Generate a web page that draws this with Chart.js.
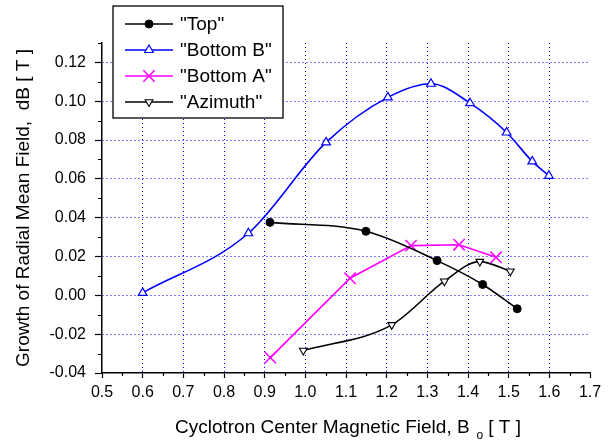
<!DOCTYPE html>
<html>
<head>
<meta charset="utf-8">
<script src="https://cdn.jsdelivr.net/npm/chart.js@4/dist/chart.umd.min.js"></script>
<style>
  html, body { margin: 0; padding: 0; background: #fff; }
</style>
</head>
<body>
<canvas id="chart" width="612" height="441"></canvas>
<script>
// values
const topX = [0.913, 1.149, 1.324, 1.436, 1.521]
const topY = [0.0376, 0.033, 0.0179, 0.0056, -0.0069]
const bottomBX = [0.6, 0.86, 1.051, 1.203, 1.309, 1.405, 1.495, 1.558, 1.599]
const bottomBY = [0.0013, 0.032, 0.0788, 0.102, 0.109, 0.099, 0.0839, 0.069, 0.0616]
const bottomAX = [0.914, 1.11, 1.26, 1.378, 1.469]
const bottomAY = [-0.0321, 0.0088, 0.0256, 0.0261, 0.0196]
const azimuthX = [0.995, 1.2125, 1.342, 1.429, 1.504]
const azimuthY = [-0.0284, -0.0152, 0.0073, 0.0174, 0.0124]

const xTicks = [0.5, 0.6, 0.7, 0.8, 0.9, 1.0, 1.1, 1.2, 1.3, 1.4, 1.5, 1.6, 1.7]
const xMinorTicks = [0.55, 0.65, 0.75, 0.85, 0.95, 1.05, 1.15, 1.25, 1.35, 1.45, 1.55, 1.65]
const yTicks = [-0.04, -0.02, 0.0, 0.02, 0.04, 0.06, 0.08, 0.1, 0.12]
const yMinorTicks = [-0.03, -0.01, 0.01, 0.03, 0.05, 0.07, 0.09, 0.11, 0.13]

const seriesNames = ['"Top"', '"Bottom B"', '"Bottom A"', '"Azimuth"']

const FONT = '"Liberation Sans", Arial, sans-serif'
const BLUE = '#0000ff'
const MAGENTA = '#ff00ff'

function toPoints(xs, ys) {
  return xs.map((x, i) => ({ x: x, y: ys[i] }))
}

// small marker painter for the legend, same shapes as the chart points
function drawMarker(ctx, ds, x, y) {
  const r = ds.pointRadius
  ctx.save()
  ctx.lineWidth = ds.pointBorderWidth
  ctx.strokeStyle = ds.pointBorderColor
  ctx.fillStyle = ds.pointBackgroundColor
  ctx.beginPath()
  if (ds.pointStyle === 'circle') {
    ctx.arc(x, y, r, 0, Math.PI * 2)
    ctx.fill()
    ctx.stroke()
  } else if (ds.pointStyle === 'triangle') {
    const rot = (ds.pointRotation || 0) * Math.PI / 180
    for (let k = 0; k < 3; k++) {
      const a = rot + k * 2 * Math.PI / 3
      const px = x + Math.sin(a) * r
      const py = y - Math.cos(a) * r
      if (k === 0) ctx.moveTo(px, py)
      else ctx.lineTo(px, py)
    }
    ctx.closePath()
    ctx.fill()
    ctx.stroke()
  } else if (ds.pointStyle === 'crossRot') {
    const d = r * Math.SQRT1_2
    ctx.moveTo(x - d, y - d); ctx.lineTo(x + d, y + d)
    ctx.moveTo(x - d, y + d); ctx.lineTo(x + d, y - d)
    ctx.stroke()
  }
  ctx.restore()
}

const legendBox = {
  id: 'legendBox',
  afterDraw(chart) {
    const ctx = chart.ctx
    const left = 113, top = 6, right = 283, bottom = 118
    ctx.save()
    ctx.fillStyle = '#fff'
    ctx.fillRect(left, top, right - left, bottom - top)
    ctx.strokeStyle = '#000'
    ctx.lineWidth = 1.3
    ctx.strokeRect(left, top, right - left, bottom - top)
    const rows = [24, 50, 76, 102]
    chart.data.datasets.forEach((ds, i) => {
      const y = rows[i]
      ctx.strokeStyle = ds.borderColor
      ctx.lineWidth = ds.borderWidth
      ctx.beginPath()
      ctx.moveTo(125, y)
      ctx.lineTo(173, y)
      ctx.stroke()
      drawMarker(ctx, ds, 149, y)
      ctx.fillStyle = '#000'
      ctx.font = '19px ' + FONT
      ctx.textBaseline = 'middle'
      ctx.textAlign = 'left'
      ctx.fillText(ds.label, 180, y + 1)
    })
    ctx.restore()
  }
}

const axisExtras = {
  id: 'axisExtras',
  afterDraw(chart) {
    const ctx = chart.ctx
    const xs = chart.scales.x
    const ys = chart.scales.y
    ctx.save()
    ctx.strokeStyle = '#000'
    ctx.lineWidth = 1.2
    ctx.beginPath()
    xMinorTicks.forEach(v => {
      const px = Math.round(xs.getPixelForValue(v)) + 0.5
      ctx.moveTo(px, xs.top)
      ctx.lineTo(px, xs.top + 3)
    })
    yMinorTicks.forEach(v => {
      const py = Math.round(ys.getPixelForValue(v)) + 0.5
      ctx.moveTo(ys.right, py)
      ctx.lineTo(ys.right - 4, py)
    })
    ctx.stroke()

    // axis titles
    ctx.fillStyle = '#000'
    ctx.textBaseline = 'alphabetic'
    ctx.textAlign = 'left'
    ctx.font = '19px ' + FONT
    const main = 'Cyclotron Center Magnetic Field, B'
    let x = 175
    ctx.fillText(main, x, 433)
    x += ctx.measureText(main).width + 7
    ctx.font = '12px ' + FONT
    ctx.fillText('o', x, 439)
    x += ctx.measureText('o').width + 5
    ctx.font = '19px ' + FONT
    ctx.fillText('[ T ]', x, 433)

    ctx.translate(24, 208)
    ctx.rotate(-Math.PI / 2)
    ctx.textAlign = 'center'
    ctx.textBaseline = 'middle'
    ctx.font = '19px ' + FONT
    ctx.fillText('Growth of Radial Mean Field,  dB [ T ]', 0, 0)
    ctx.restore()
  }
}

new Chart(document.getElementById('chart'), {
  type: 'scatter',
  data: {
    datasets: [
      {
        label: seriesNames[0],
        data: toPoints(topX, topY),
        showLine: true,
        cubicInterpolationMode: 'monotone',
        borderColor: '#000',
        borderWidth: 1.6,
        pointStyle: 'circle',
        pointRadius: 4,
        pointBackgroundColor: '#000',
        pointBorderColor: '#000',
        pointBorderWidth: 1,
      },
      {
        label: seriesNames[1],
        data: toPoints(bottomBX, bottomBY),
        showLine: true,
        cubicInterpolationMode: 'monotone',
        borderColor: BLUE,
        borderWidth: 1.6,
        pointStyle: 'triangle',
        pointRadius: 5,
        pointBackgroundColor: '#fff',
        pointBorderColor: BLUE,
        pointBorderWidth: 1.2,
      },
      {
        label: seriesNames[2],
        data: toPoints(bottomAX, bottomAY),
        showLine: true,
        tension: 0,
        borderColor: MAGENTA,
        borderWidth: 1.6,
        pointStyle: 'crossRot',
        pointRadius: 8,
        pointBackgroundColor: MAGENTA,
        pointBorderColor: MAGENTA,
        pointBorderWidth: 1.5,
      },
      {
        label: seriesNames[3],
        data: toPoints(azimuthX, azimuthY),
        showLine: true,
        cubicInterpolationMode: 'monotone',
        borderColor: '#000',
        borderWidth: 1.6,
        pointStyle: 'triangle',
        pointRotation: 180,
        pointRadius: 4.5,
        pointBackgroundColor: '#fff',
        pointBorderColor: '#000',
        pointBorderWidth: 1.1,
      },
    ],
  },
  options: {
    responsive: false,
    animation: false,
    devicePixelRatio: 1,
    layout: { padding: { top: 43, right: 22, left: 0, bottom: 0 } },
    plugins: {
      legend: { display: false },
      tooltip: { enabled: false },
    },
    scales: {
      x: {
        type: 'linear',
        min: 0.5,
        max: 1.7,
        afterBuildTicks: scale => { scale.ticks = xTicks.map(v => ({ value: v })) },
        afterFit: scale => { scale.height = 68 },
        border: { display: true, color: '#000', width: 1.5, dash: [1, 3] },
        grid: {
          color: c => (c.tick && (c.tick.value === 0.5 || c.tick.value === 1.7)) ? 'rgba(0,0,0,0)' : BLUE,
          lineWidth: 1,
          drawTicks: true,
          tickLength: 5,
          tickColor: '#000',
          tickWidth: 1.2,
          tickBorderDash: [],
        },
        ticks: {
          color: '#000',
          font: { family: FONT, size: 16 },
          padding: 5,
          maxRotation: 0,
          callback: v => v.toFixed(1),
        },
      },
      y: {
        type: 'linear',
        min: -0.04,
        max: 0.13,
        afterBuildTicks: scale => { scale.ticks = yTicks.map(v => ({ value: v })) },
        afterFit: scale => { scale.width = 102 },
        border: { display: true, color: '#000', width: 1.5, dash: [1, 3] },
        grid: {
          color: c => (c.tick && c.tick.value === -0.04) ? 'rgba(0,0,0,0)' : BLUE,
          lineWidth: 1,
          drawTicks: true,
          tickLength: 7,
          tickColor: '#000',
          tickWidth: 1.2,
          tickBorderDash: [],
        },
        ticks: {
          color: '#000',
          font: { family: FONT, size: 16 },
          padding: 9,
          callback: v => v.toFixed(2),
        },
      },
    },
  },
  plugins: [axisExtras, legendBox],
})
</script>
</body>
</html>
